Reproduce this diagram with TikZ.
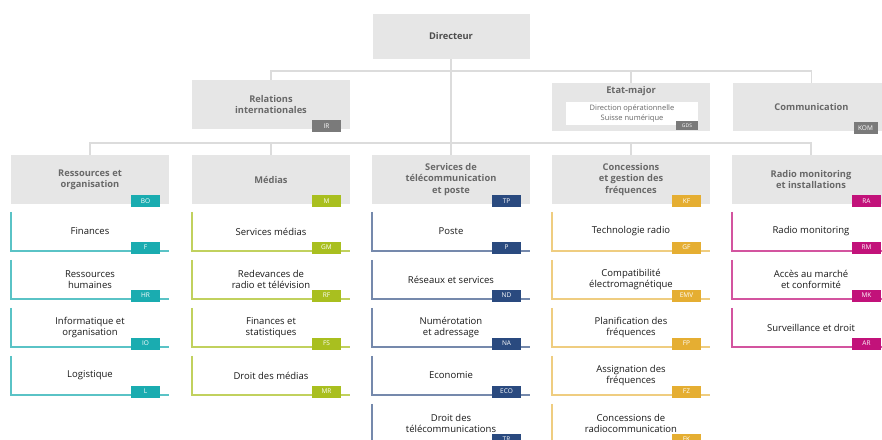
\documentclass[tikz,border=0pt]{standalone}
\usepackage{fontspec}
\setmainfont{Open Sans}
\usepackage{xcolor}
\usepackage{tikz}
\usetikzlibrary{positioning,calc}

\definecolor{boxgray}{HTML}{E6E6E6}
\definecolor{linegray}{HTML}{DCDCDC}
\definecolor{titlegray}{HTML}{686868}
\definecolor{taggray}{HTML}{7A7A7A}
\definecolor{bocol}{HTML}{1AACB0}
\definecolor{mcol}{HTML}{A9BF1F}
\definecolor{tpcol}{HTML}{2A4A7F}
\definecolor{kfcol}{HTML}{E5AE32}
\definecolor{racol}{HTML}{C2127A}
\colorlet{bolight}{bocol!72!white}
\colorlet{mlight}{mcol!72!white}
\colorlet{tplight}{tpcol!65!white}
\colorlet{kflight}{kfcol!62!white}
\colorlet{ralight}{racol!72!white}

\tikzset{
    head/.style={fill=boxgray, minimum width=158pt, minimum height=49pt, inner sep=0pt,
        align=center, text=titlegray, font=\fontsize{9.3}{11.3}\selectfont\bfseries},
    sub/.style={minimum width=158pt, minimum height=39pt, inner sep=0pt,
        align=center, text=black!90, font=\fontsize{9.5}{11.7}\selectfont},
    tag/.style={fill=#1, text=white, minimum width=29pt, minimum height=12pt, inner sep=0pt,
        font=\fontsize{6.5}{7}\selectfont},
    link/.style={draw=linegray, line width=1.4pt},
    subline/.style={draw=#1, line width=1.45pt},
}

\begin{document}
\begin{tikzpicture}[x=1pt,y=-1pt]
    \useasboundingbox (0,0) rectangle (882,439);
    \clip (0,0) rectangle (882,439);

    % top level
    \node[head, minimum width=157pt, minimum height=45pt, text=black!70] (dir) at (451,36.5) {Directeur};
    \node[head] (intl) at (271,104.5) {Relations\\internationales};
    \node[head, minimum height=48pt] (etat) at (631,107) {};
    \node[text=titlegray, font=\fontsize{9.3}{11}\selectfont\bfseries] (etat-title) at (631,91.5) {Etat-major};
    \node[fill=white, minimum width=132pt, minimum height=23pt, inner sep=0pt, align=center,
        text=titlegray, font=\fontsize{7.5}{9.5}\selectfont] (gds-box) at (632,113.5) {Direction opérationnelle\\Suisse numérique};
    \node[head, minimum height=48pt] (comm) at (811.5,107) {Communication};

    \node[tag=taggray, anchor=south east] (ir-tag) at ($(intl.south east)+(-9,3)$) {IR};
    \node[tag=taggray, anchor=south east, minimum width=22pt, minimum height=9pt,
        font=\fontsize{5}{6}\selectfont] (gds-tag) at ($(gds-box.south east)+(0,5)$) {GDS};
    \node[tag=taggray, anchor=south east, minimum width=24pt] (kom-tag) at ($(comm.south east)+(-13,3)$) {KOM};

    % divisions
    \node[head] (bo) at (90,179.5) {Ressources et\\organisation};
    \node[head] (m) at (271,179.5) {Médias};
    \node[head] (tp) at (451,179.5) {Services de\\télécommunication\\et poste};
    \node[head] (kf) at (631,179.5) {Concessions\\et gestion des\\fréquences};
    \node[head] (ra) at (811,179.5) {Radio monitoring\\et installations};

    \node[tag=bocol, anchor=south east] (bo-tag) at ($(bo.south east)+(-9,3)$) {BO};
    \node[tag=mcol, anchor=south east] (m-tag) at ($(m.south east)+(-9,3)$) {M};
    \node[tag=tpcol, anchor=south east] (tp-tag) at ($(tp.south east)+(-9,3)$) {TP};
    \node[tag=kfcol, anchor=south east] (kf-tag) at ($(kf.south east)+(-9,3)$) {KF};
    \node[tag=racol, anchor=south east] (ra-tag) at ($(ra.south east)+(-9,3)$) {RA};

    % connectors
    \coordinate (bus1) at (451,71);
    \coordinate (bus2) at (451,143);
    \draw[link] (dir.south) -- (tp.north);
    \draw[link] (intl.north) |- (bus1) -| (etat.north);
    \draw[link] (bus1) -| (comm.north);
    \draw[link] (bo.north) |- (bus2) -| (ra.north);
    \draw[link] (m.north) -- (m.north |- bus2);
    \draw[link] (kf.north) -- (kf.north |- bus2);

    % sections
    \foreach \nm/\txt/\code [count=\i from 0] in {f/Finances/F, hr/{Ressources\\humaines}/HR,
        io/{Informatique et\\organisation}/IO, lg/Logistique/L} {
        \node[sub] (\nm) at (90,{231.5+48*\i}) {\txt};
        \draw[subline=bolight] (\nm.north west) -- (\nm.south west) -- (\nm.south east);
        \node[tag=bocol, anchor=south east] (\nm-tag) at ($(\nm.south east)+(-9,2.5)$) {\code};
    }
    \foreach \nm/\txt/\code [count=\i from 0] in {gm/Services médias/GM, rf/{Redevances de\\radio et télévision}/RF,
        fs/{Finances et\\statistiques}/FS, mr/Droit des médias/MR} {
        \node[sub] (\nm) at (271,{231.5+48*\i}) {\txt};
        \draw[subline=mlight] (\nm.north west) -- (\nm.south west) -- (\nm.south east);
        \node[tag=mcol, anchor=south east] (\nm-tag) at ($(\nm.south east)+(-9,2.5)$) {\code};
    }
    \foreach \nm/\txt/\code [count=\i from 0] in {p/Poste/P, nd/Réseaux et services/ND,
        na/{Numérotation\\et adressage}/NA, eco/Economie/ECO, tr/{Droit des\\télécommunications}/TR} {
        \node[sub] (\nm) at (451,{231.5+48*\i}) {\txt};
        \draw[subline=tplight] (\nm.north west) -- (\nm.south west) -- (\nm.south east);
        \node[tag=tpcol, anchor=south east] (\nm-tag) at ($(\nm.south east)+(-9,2.5)$) {\code};
    }
    \foreach \nm/\txt/\code [count=\i from 0] in {gf/Technologie radio/GF, emv/{Compatibilité\\électromagnétique}/EMV,
        fp/{Planification des\\fréquences}/FP, fz/{Assignation des\\fréquences}/FZ,
        fk/{Concessions de\\radiocommunication}/FK} {
        \node[sub] (\nm) at (631,{231.5+48*\i}) {\txt};
        \draw[subline=kflight] (\nm.north west) -- (\nm.south west) -- (\nm.south east);
        \node[tag=kfcol, anchor=south east] (\nm-tag) at ($(\nm.south east)+(-9,2.5)$) {\code};
    }
    \foreach \nm/\txt/\code [count=\i from 0] in {rm/Radio monitoring/RM, mk/{Accès au marché\\et conformité}/MK,
        ar/Surveillance et droit/AR} {
        \node[sub] (\nm) at (811,{231.5+48*\i}) {\txt};
        \draw[subline=ralight] (\nm.north west) -- (\nm.south west) -- (\nm.south east);
        \node[tag=racol, anchor=south east] (\nm-tag) at ($(\nm.south east)+(-9,2.5)$) {\code};
    }
\end{tikzpicture}
\end{document}
